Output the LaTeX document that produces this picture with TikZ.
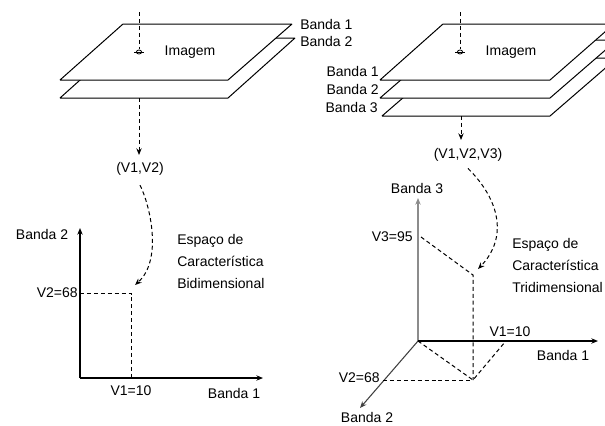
\documentclass[tikz,border=0pt]{standalone}
\usepackage{fontspec}
\setmainfont{Liberation Sans}
\usetikzlibrary{arrows.meta}
\begin{document}
\begin{tikzpicture}[x=0.75pt,y=-0.75pt,
  font=\fontsize{10.5}{16.5}\selectfont,
  lbl/.style={inner sep=0pt},
  plate/.style={draw=black, fill=white, line width=0.75pt, line join=bevel},
  dsh/.style={dash pattern=on 3pt off 2.2pt, line width=0.75pt},
  arr/.style={-{Stealth[length=5pt,width=4pt]}},
  axis/.style={line width=0.8pt, -{Stealth[length=5pt,width=4pt]}},
  ctrmark/.style={line width=0.6pt}]
\useasboundingbox (0,0) rectangle (605,425);
\begin{scope}
\clip (0,0) rectangle (605,425);
% ---------- left plates ----------
\draw[plate] (60,98) -- (228,98) -- (295,38) -- (127,38) -- cycle;
\draw[plate] (60,80) -- (228,80) -- (292,24) -- (123,24) -- cycle;
% ---------- right plates ----------
\draw[plate] (382,116) -- (550,116) -- (617,58) -- (449,58) -- cycle;
\draw[plate] (380,98) -- (550,98) -- (617,40) -- (447,40) -- cycle;
\draw[plate] (380,80) -- (550,80) -- (614,24) -- (443,24) -- cycle;
\end{scope}

% ---------- left image ----------
\coordinate (ltop) at (139,12);
\coordinate (lc) at (139,52);
\coordinate (lb) at (139,98);
\coordinate (larr) at (139,155);
\draw[dsh] (ltop) -- ([yshift=2]lc);
\draw[ctrmark] (lc) ellipse (2.6 and 2);
\draw[ctrmark] ([xshift=-3.5]lc) -- ([xshift=3.5]lc);
\draw[dsh,arr] (lb) -- (larr);
\node[lbl] (limg) at (190,52) {Imagem};
\node[lbl, anchor=west] (lband1) at (300,24) {Banda 1};
\node[lbl, anchor=west] (lband2) at (300,41) {Banda 2};
\node[lbl] (v12) at (140,169) {(V1,V2)};

% left axes
\coordinate (O1) at (80,378);
\coordinate (Y1) at (80,228);
\coordinate (X1) at (263,378);
\coordinate (P1) at (131,293);
\coordinate (P1y) at (80,293);
\coordinate (P1x) at (131,378);
\draw[axis] (O1) -- (Y1);
\draw[axis] (O1) -- (X1);
\draw[dsh] (P1y) -- (P1) -- (P1x);
\draw[dsh,arr] ([yshift=-7pt]v12.south) .. controls (150,205) and (163,260) .. ([shift={(4,-8)}]P1);
\node[lbl] (lb2) at (42,234) {Banda 2};
\node[lbl, anchor=east] (lv2) at (78,293) {V2=68};
\node[lbl] (lv1) at (131,391) {V1=10};
\node[lbl] (lb1) at (234,393) {Banda 1};
\node[lbl, anchor=west, align=left] (lesp) at (177,261) {Espaço de\\Característica\\Bidimensional};

% ---------- right image ----------
\coordinate (rtop) at (460,12);
\coordinate (rc) at (460,52);
\coordinate (rb) at (461,116);
\coordinate (rarr) at (461,140);
\draw[dsh] (rtop) -- ([yshift=2]rc);
\draw[ctrmark] (rc) ellipse (2.6 and 2);
\draw[ctrmark] ([xshift=-3.5]rc) -- ([xshift=3.5]rc);
\draw[dsh,arr] (rb) -- (rarr);
\node[lbl] (rimg) at (511,52) {Imagem};
\node[lbl, anchor=east] (rband1) at (379,71) {Banda 1};
\node[lbl, anchor=east] (rband2) at (379,89) {Banda 2};
\node[lbl, anchor=east] (rband3) at (378,107) {Banda 3};
\node[lbl] (v123) at (468,155) {(V1,V2,V3)};

% right axes
\coordinate (O2) at (418,341);
\coordinate (Z2) at (418,198);
\coordinate (X2) at (598,341);
\coordinate (Y2) at (360,408);
\coordinate (A2) at (473,275);
\coordinate (B2) at (473,380);
\coordinate (V3p) at (421,237);
\coordinate (V1p) at (505,342);
\coordinate (V2p) at (383,380);
\draw[axis, draw=black!45] (O2) -- (Z2);
\draw[axis, line width=1pt] (O2) -- (X2);
\draw[axis, draw=black!75] (O2) -- (Y2);
\draw[dsh] (V3p) -- (A2) -- (B2);
\draw[dsh] (V2p) -- (B2);
\draw[dsh] (O2) -- (B2) -- (V1p);
\draw[dsh,arr] ([yshift=-5pt]v123.south) .. controls (500,200) and (508,238) .. ([shift={(5,-6)}]A2);
\node[lbl] (rb3) at (417,188) {Banda 3};
\node[lbl, anchor=east] (rv3) at (413,237) {V3=95};
\node[lbl] (rv1) at (510,332) {V1=10};
\node[lbl] (rb1) at (563,355) {Banda 1};
\node[lbl, anchor=east] (rv2) at (380,378) {V2=68};
\node[lbl] (rb2) at (367,417) {Banda 2};
\node[lbl, anchor=west, align=left] (resp) at (512,265) {Espaço de\\Característica\\Tridimensional};
\end{tikzpicture}
\end{document}
